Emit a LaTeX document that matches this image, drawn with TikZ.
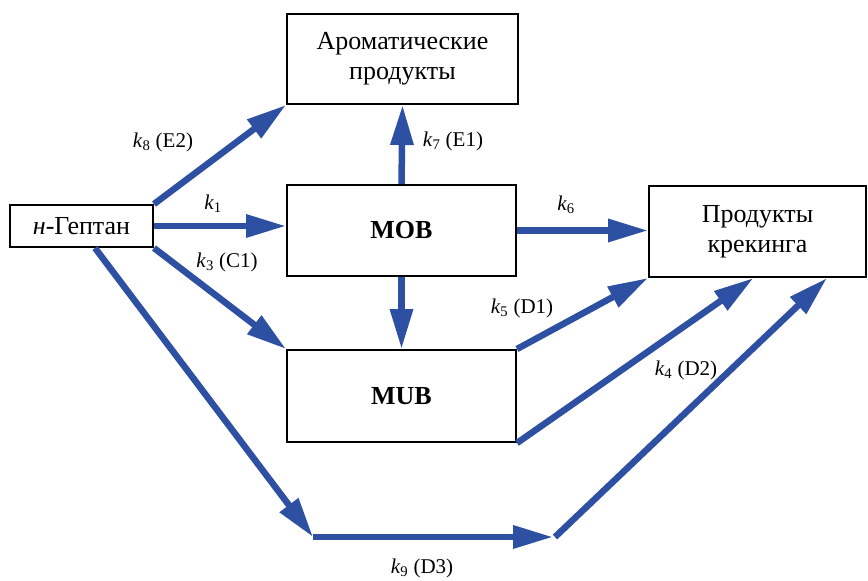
\documentclass[tikz,border=0pt]{standalone}
\usepackage{fontspec}
\setmainfont{Liberation Serif}
\usetikzlibrary{arrows.meta}
\definecolor{arrblue}{RGB}{46,80,162}
\tikzset{
  box/.style={draw=black, line width=2pt, align=center, inner sep=0pt,
    font=\fontsize{26}{30}\selectfont},
  arr/.style={draw=arrblue, line width=6.5pt,
    -{Triangle[length=40pt, width=22pt]}},
  lbl/.style={font=\fontsize{21}{24}\selectfont, inner sep=0pt}
}
\begin{document}
\begin{tikzpicture}[x=1pt,y=-1pt]
\useasboundingbox (0,0) rectangle (868,581);
\node[box, minimum width=143pt, minimum height=42pt] (hep) at (81.5,226) {\textit{н}-Гептан};
\node[box, minimum width=231pt, minimum height=90pt] (arom) at (402.5,59) {Ароматические\\продукты};
\node[box, minimum width=229pt, minimum height=91pt] (mob) at (401.5,230.5) {\textbf{MOB}};
\node[box, minimum width=229pt, minimum height=92pt] (mub) at (401.5,396) {\textbf{MUB}};
\node[box, minimum width=217pt, minimum height=91pt] (crack) at (757.5,231.5) {Продукты\\крекинга};

\coordinate (c1) at (313,537);
\coordinate (c2) at (553,537);
\coordinate (c3) at (555,537);

\draw[arr] (hep.north east) -- (arom.south west);
\draw[arr] (hep.east) -- (hep.east -| mob.west);
\draw[arr] (hep.south east) -- (mub.north west);
\draw[arr] ([xshift=13.5pt]hep.south) -- (c1);
\draw[arr] (c1) -- (c2);
\draw[arr] (c3) -- ([xshift=69.5pt]crack.south);
\draw[arr] (mob.north) -- (arom.south);
\draw[arr] (mob.south) -- (mub.north);
\draw[arr] (mob.east) -- (mob.east -| crack.west);
\draw[arr] (mub.north east) -- (crack.south west);
\draw[arr] (mub.south east) -- ([xshift=-4pt]crack.south);

\node[lbl] (l8) at (163,142) {\textit{k}\textsubscript{8} (E2)};
\node[lbl] (l1) at (213,204) {\textit{k}\textsubscript{1}};
\node[lbl] (l3) at (227,262) {\textit{k}\textsubscript{3} (C1)};
\node[lbl] (l7) at (453,141) {\textit{k}\textsubscript{7} (E1)};
\node[lbl] (l6) at (566,205) {\textit{k}\textsubscript{6}};
\node[lbl] (l5) at (522,308) {\textit{k}\textsubscript{5} (D1)};
\node[lbl] (l4) at (686,370) {\textit{k}\textsubscript{4} (D2)};
\node[lbl] (l9) at (422,568) {\textit{k}\textsubscript{9} (D3)};
\end{tikzpicture}
\end{document}
